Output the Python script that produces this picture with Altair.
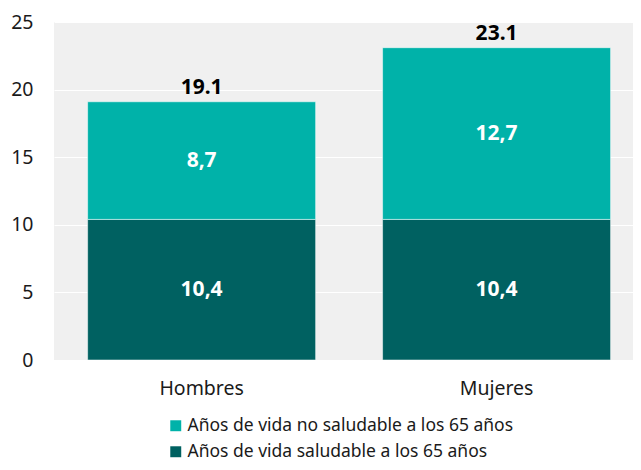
import altair as alt
import pandas as pd

categories = ["Hombres", "Mujeres"]
series = ["Años de vida no saludable a los 65 años", "Años de vida saludable a los 65 años"]
healthy = [10.4, 10.4]
unhealthy = [8.7, 12.7]
totals = [19.1, 23.1]
colors = ["#00b2a9", "#006161"]
y_ticks = [0, 5, 10, 15, 20, 25]

rows = []
for i, c in enumerate(categories):
    rows.append({"cat": c, "serie": series[1], "value": healthy[i], "ord": 0})
    rows.append({"cat": c, "serie": series[0], "value": unhealthy[i], "ord": 1})
df = pd.DataFrame(rows)
tot_df = pd.DataFrame({"cat": categories, "total": totals})

FONT = "Noto Sans"

x_enc = alt.X(
    "cat:N", sort=categories, title=None,
    scale=alt.Scale(paddingInner=0.227, paddingOuter=0.095, align=0.6),
    axis=alt.Axis(labelAngle=0, ticks=False, domain=False, labelFontSize=19.5,
                  labelPadding=19, labelColor="#1a1a1a", labelFont=FONT, grid=False),
)

y_scale = alt.Scale(domain=[0, 25], nice=False)

bars = alt.Chart(df).mark_bar(stroke="white", strokeWidth=1, strokeOpacity=0.5).encode(
    x=x_enc,
    y=alt.Y("value:Q", stack="zero", scale=y_scale, title=None,
            axis=alt.Axis(values=y_ticks, ticks=False, domain=False, labelFontSize=19.5,
                          labelPadding=21, labelColor="#1a1a1a", labelFont=FONT,
                          grid=True, gridColor="white", gridWidth=1)),
    color=alt.Color("serie:N", scale=alt.Scale(domain=series, range=colors),
                    legend=alt.Legend(title=None, orient="none", legendX=113, legendY=395,
                                      direction="vertical", symbolType="square",
                                      symbolSize=120, symbolStrokeWidth=0,
                                      labelFontSize=17.5, labelFont=FONT, labelLimit=500,
                                      labelColor="#1a1a1a", rowPadding=7, padding=0,
                                      labelOffset=3)),
    order=alt.Order("ord:Q", sort="ascending"),
)

seg_text = alt.Chart(df).transform_stack(
    stack="value", groupby=["cat"], as_=["v0", "v1"], sort=[alt.SortField("ord", order="ascending")]
).transform_calculate(
    mid="(datum.v0 + datum.v1) / 2",
    lbl="replace(format(datum.value, '.1f'), '.', ',')",
).mark_text(color="white", fontWeight="bold", fontSize=21, font=FONT, baseline="middle").encode(
    x=alt.X("cat:N", sort=categories),
    y=alt.Y("mid:Q", scale=y_scale),
    text="lbl:N",
)

tot_text = alt.Chart(tot_df).transform_calculate(
    lbl="format(datum.total, '.1f')"
).mark_text(color="black", fontWeight="bold", fontSize=21, font=FONT, baseline="bottom", dy=-4).encode(
    x=alt.X("cat:N", sort=categories),
    y=alt.Y("total:Q", scale=y_scale),
    text="lbl:N",
)

chart = alt.layer(bars, seg_text, tot_text).properties(
    width=579, height=338,
    autosize=alt.AutoSizeParams(type="none"),
    padding={"left": 46, "top": 14, "right": 0, "bottom": 102},
    background="white",
).configure_view(fill="#f0f0f0", stroke=None)

chart.save("out.html", embed_options={"renderer": "svg", "actions": False})
